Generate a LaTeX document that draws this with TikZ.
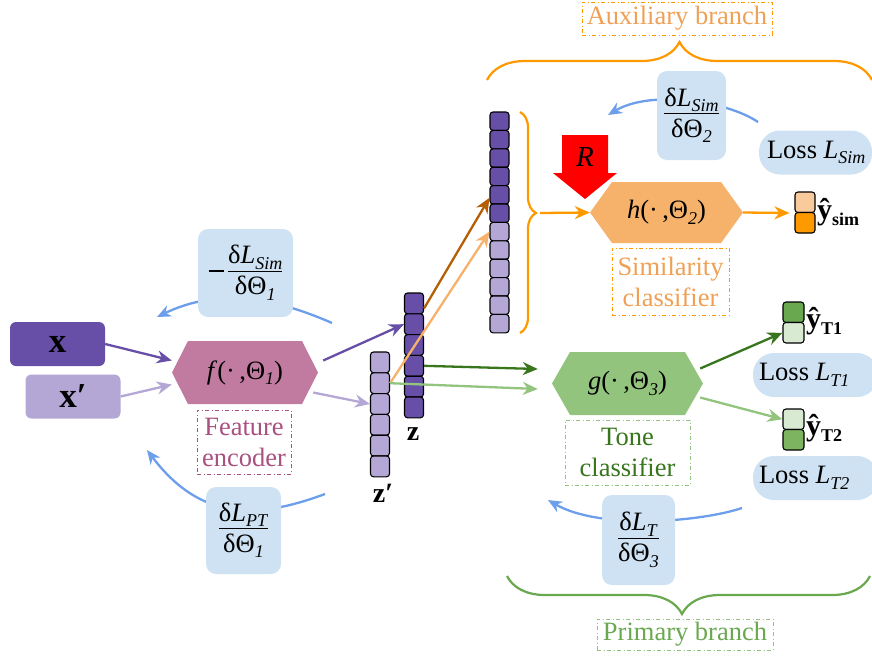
\documentclass[tikz,border=0pt]{standalone}
\usepackage{fontspec}
\setmainfont{Liberation Serif}
\usetikzlibrary{arrows.meta,decorations.pathreplacing,calc}
\setlength{\arrayrulewidth}{1pt}
\newcommand{\sbs}[1]{\raisebox{-0.45ex}{\fontsize{18}{18}\selectfont\textit{#1}}}
\newcommand{\bsbs}[1]{\raisebox{-0.45ex}{\fontsize{18}{18}\selectfont\textbf{#1}}}
\newcommand{\myfrac}[2]{\begin{tabular}{@{}c@{}}#1\\[-2pt]\hline\rule{0pt}{23pt}#2\end{tabular}}
\newcommand{\bigminus}{\raisebox{7pt}{\rule{15pt}{2.6pt}}}
\definecolor{dpurple}{HTML}{674EA7}
\definecolor{lpurple}{HTML}{B4A7D6}
\definecolor{fcol}{HTML}{C27BA0}
\definecolor{fetext}{HTML}{A8507F}
\definecolor{lblue}{HTML}{CFE2F3}
\definecolor{barrow}{HTML}{6D9EEB}
\definecolor{orangeC}{HTML}{FF9900}
\definecolor{hcol}{HTML}{F6B26B}
\definecolor{auxtext}{HTML}{F0A055}
\definecolor{brownC}{HTML}{B45F06}
\definecolor{dgreen}{HTML}{38761D}
\definecolor{lgreen}{HTML}{93C47D}
\definecolor{mgreen}{HTML}{6AA84F}
\definecolor{vlgreen}{HTML}{D9EAD3}
\definecolor{tgreen}{HTML}{7CB45F}
\definecolor{simtop}{HTML}{F9CB9C}
\definecolor{redC}{HTML}{FF0000}
\begin{document}
\begin{tikzpicture}[x=1pt,y=-1pt,
  every node/.style={font=\fontsize{26.5}{31}\selectfont, inner sep=2pt},
  arr/.style={line width=2.3pt, -{Stealth[length=15pt,width=13pt]}},
  bluearr/.style={line width=2.3pt, draw=barrow, -{Stealth[length=14pt,width=12pt]}},
  cell/.style={draw=black, line width=1.1pt, rounded corners=3pt, minimum width=19pt, inner sep=0pt},
  hexa/.style n args={4}{minimum width=#1, minimum height=#2, inner sep=0pt,
    path picture={\fill[#4] (path picture bounding box.west) -- ([xshift=#3]path picture bounding box.north west) -- ([xshift=-#3]path picture bounding box.north east) -- (path picture bounding box.east) -- ([xshift=-#3]path picture bounding box.south east) -- ([xshift=#3]path picture bounding box.south west) -- cycle;}},
  gbox/.style={fill=lblue, rounded corners=10pt, inner sep=0pt},
  pill/.style={fill=lblue, rounded corners=21pt, minimum height=44pt, inner sep=0pt},
  lab/.style={draw, line width=0.9pt, dash pattern=on 4pt off 2.5pt on 1pt off 2.5pt, align=center, inner sep=0pt},
  inbox/.style={rounded corners=6pt, minimum width=95pt, minimum height=44pt, inner sep=0pt},
  brc/.style={line width=2.2pt, decorate}
]
\useasboundingbox (0,0) rectangle (872,657);

% ---------- blue gradient curves (behind boxes) ----------
\coordinate (s1a) at (332,323); \coordinate (s1b) at (157,317);
\draw[bluearr] (s1a) .. controls (273,297) and (217,288) .. (s1b);
\coordinate (p1a) at (325,494); \coordinate (p1b) at (147,450);
\draw[bluearr] (p1a) .. controls (255,520) and (200,520) .. (p1b);
\coordinate (t3a) at (742,508); \coordinate (t3b) at (548,500);
\draw[bluearr] (t3a) .. controls (700,522) and (600,530) .. (t3b);
\coordinate (s2a) at (758,122); \coordinate (s2b) at (608,115);
\draw[bluearr] (s2a) .. controls (725,100) and (650,90) .. (s2b);

% ---------- gradient boxes ----------
\node[gbox, minimum width=95pt, minimum height=88pt] (gs1) at (245.5,273) {\bigminus\,\myfrac{δ\textit{L}\sbs{Sim}}{δΘ\sbs{1}}};
\node[gbox, minimum width=75pt, minimum height=87pt] (gp1) at (243.5,530.5) {\myfrac{δ\textit{L}\sbs{PT}}{δΘ\sbs{1}}};
\node[gbox, minimum width=69pt, minimum height=89pt] (gs2) at (691.5,115.5) {\myfrac{δ\textit{L}\sbs{Sim}}{δΘ\sbs{2}}};
\node[gbox, minimum width=73pt, minimum height=90pt] (gt3) at (638.5,540) {\myfrac{δ\textit{L}\sbs{T}}{δΘ\sbs{3}}};

% ---------- inputs ----------
\node[inbox, fill=dpurple] (x) at (57.5,344) {\fontsize{35}{35}\selectfont\textbf{x}};
\node[inbox, fill=lpurple] (xp) at (73,396.5) {\fontsize{35}{35}\selectfont\textbf{x′}};

% ---------- encoder ----------
\node[hexa={146pt}{63pt}{16pt}{fcol}] (f) at (245,372.5) {\textit{f}(·\,,Θ\sbs{1})};
\node[lab, draw=fetext, text=fetext, minimum width=94pt, minimum height=64pt] (fe) at (244,442) {Feature\\encoder};

% ---------- feature vectors ----------
\foreach \i in {1,...,6} {
  \node[cell, fill=dpurple, minimum height=20.8pt] (z\i) at (414,{303.4+(\i-1)*20.8}) {};
  \node[cell, fill=lpurple, minimum height=20.8pt] (zp\i) at (380,{362.4+(\i-1)*20.8}) {};
}
\node (zl) at (413,434) {\fontsize{28}{28}\selectfont\textbf{z}};
\node (zpl) at (383,493) {\fontsize{28}{28}\selectfont\textbf{z′}};
\foreach \i in {1,...,6} {
  \node[cell, fill=dpurple, minimum height=18.4pt] (c\i) at (499.5,{121.2+(\i-1)*18.4}) {};
}
\foreach \i in {7,...,12} {
  \node[cell, fill=lpurple, minimum height=18.4pt] (c\i) at (499.5,{121.2+(\i-1)*18.4}) {};
}

% ---------- braces ----------
\draw[brc, orangeC, decoration={brace, amplitude=16pt, aspect=0.457}] (520,112) -- (520,333);
\coordinate (btip) at (540,213);
\draw[brc, orangeC, decoration={brace, amplitude=38pt}] (487,80) -- (872,80);
\draw[brc, mgreen, decoration={brace, amplitude=38pt, aspect=0.518}] (870,576) -- (507,576);

% ---------- branch labels ----------
\node[lab, draw=orangeC, text=auxtext, minimum width=190pt, minimum height=33pt] (auxl) at (677,18.5) {Auxiliary branch};
\node[lab, draw=lgreen, text=mgreen, minimum width=176pt, minimum height=31pt] (priml) at (685,634.5) {Primary branch};

% ---------- similarity classifier ----------
\node[hexa={153pt}{61pt}{22pt}{hcol}] (h) at (666.5,212.5) {\textit{h}(·\,,Θ\sbs{2})};
\node[lab, draw=orangeC, text=auxtext, minimum width=117pt, minimum height=67pt] (simc) at (670.5,281.5) {Similarity\\classifier};
\fill[redC] (562,135) -- (608,135) -- (608,173) -- (617,173) -- (585,199) -- (553,173) -- (562,173) -- cycle;
\node (R) at (585,157) {\fontsize{29}{29}\selectfont\textit{R}};

% ---------- tone classifier ----------
\node[hexa={151pt}{63pt}{18pt}{lgreen}] (g) at (627.5,383.5) {\textit{g}(·\,,Θ\sbs{3})};
\node[lab, draw=lgreen, text=dgreen, minimum width=125pt, minimum height=65pt] (tone) at (627.5,452.5) {Tone\\classifier};

% ---------- outputs ----------
\node[cell, fill=simtop, minimum width=20pt, minimum height=20.5pt] (ys1) at (805,202.25) {};
\node[cell, fill=orangeC, minimum width=20pt, minimum height=20.5pt] (ys2) at (805,222.75) {};
\node[anchor=west, inner sep=0pt] (ysl) at (817,212) {\fontsize{30}{30}\selectfont\textbf{ŷ}\bsbs{sim}};
\node[cell, fill=mgreen, minimum width=21pt, minimum height=20.5pt] (yt1a) at (793.5,312.25) {};
\node[cell, fill=vlgreen, minimum width=21pt, minimum height=20.5pt] (yt1b) at (793.5,332.75) {};
\node[anchor=west, inner sep=0pt] (yt1l) at (806,321) {\fontsize{30}{30}\selectfont\textbf{ŷ}\bsbs{T1}};
\node[cell, fill=vlgreen, minimum width=21pt, minimum height=20.5pt] (yt2a) at (793.5,419.25) {};
\node[cell, fill=tgreen, minimum width=21pt, minimum height=20.5pt] (yt2b) at (793.5,439.75) {};
\node[anchor=west, inner sep=0pt] (yt2l) at (806,428) {\fontsize{30}{30}\selectfont\textbf{ŷ}\bsbs{T2}};

% ---------- losses ----------
\node[pill, minimum width=113pt, label={[anchor=west, inner sep=0pt, xshift=8pt]west:Loss \textit{L}\sbs{Sim}}] (lsim) at (815.5,152.5) {};
\node[pill, minimum width=125pt, label={[anchor=west, inner sep=0pt, xshift=6pt]west:Loss \textit{L}\sbs{T1}}] (lt1) at (815.5,375) {};
\node[pill, minimum width=125pt, label={[anchor=west, inner sep=0pt, xshift=6pt]west:Loss \textit{L}\sbs{T2}}] (lt2) at (815.5,478) {};

% ---------- forward arrows ----------
\draw[arr, dpurple] (x.east) -- ([yshift=12pt]f.west);
\draw[arr, lpurple] (xp.east) -- ([yshift=-12pt]f.west);
\draw[arr, dpurple] ([shift={(5pt,12pt)}]f.east) -- (z2.west);
\draw[arr, lpurple] ([shift={(-5pt,-20pt)}]f.east) -- (zp3.west);
\draw[arr, brownC] ([yshift=-5pt]z1.east) -- ([yshift=-3pt]c5.west);
\draw[arr, hcol] (zp2.east) -- (c7.west);
\draw[arr, dgreen] (z4.east) -- ([shift={(-14pt,14.5pt)}]g.west);
\draw[arr, lgreen] (zp2.east) -- ([shift={(-14pt,-5.5pt)}]g.west);
\draw[arr, orangeC] (btip) -- (h.west);
\draw[arr, orangeC, shorten >=5pt] (h.east) -- (ys1.south west);
\draw[arr, dgreen] ([shift={(-3pt,15pt)}]g.east) -- (yt1b.west);
\draw[arr, lgreen] ([shift={(-3pt,-14pt)}]g.east) -- (yt2a.west);
\end{tikzpicture}
\end{document}
